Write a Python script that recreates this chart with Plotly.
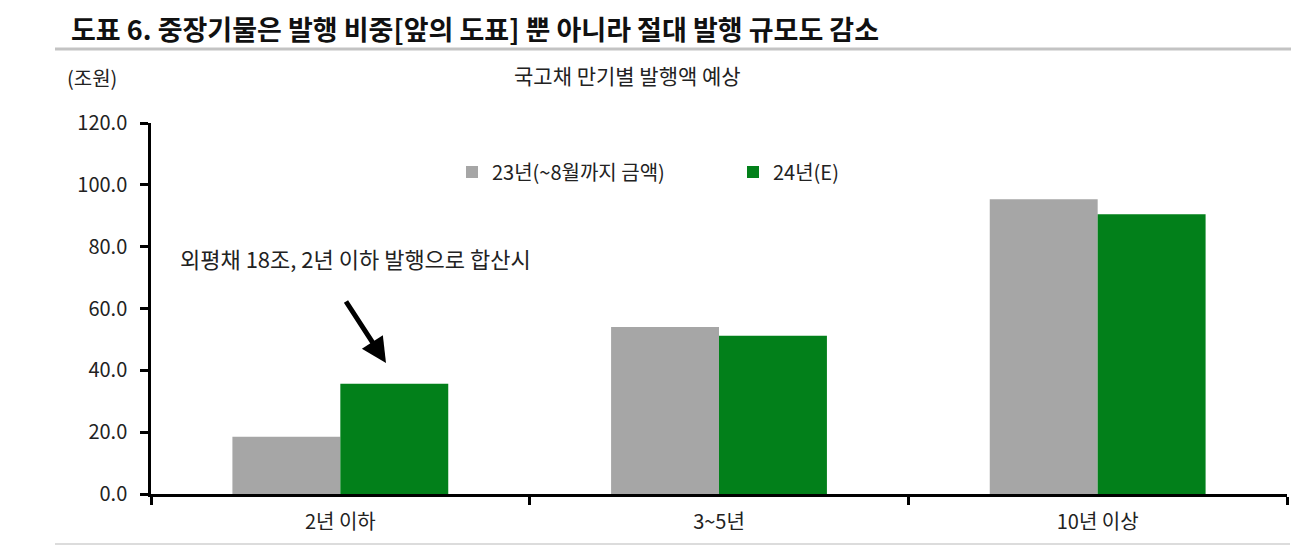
import plotly.graph_objects as go

categories = ["2년 이하", "3~5년", "10년 이상"]
series_names = ["23년(~8월까지 금액)", "24년(E)"]
values_23 = [18.5, 54.0, 95.3]
values_24 = [35.7, 51.2, 90.5]
y_ticks = [0, 20, 40, 60, 80, 100, 120]
y_tick_labels = ["0.0", "20.0", "40.0", "60.0", "80.0", "100.0", "120.0"]

title_text = "도표 6. 중장기물은 발행 비중[앞의 도표] 뿐 아니라 절대 발행 규모도 감소"
subtitle_text = "국고채 만기별 발행액 예상"
unit_text = "(조원)"
note_text = "외평채 18조, 2년 이하 발행으로 합산시"

FONT = "Noto Sans CJK KR"
GRAY = "#a6a6a6"
GREEN = "#02801a"
TXT = "#222222"

fig = go.Figure()
fig.add_trace(go.Bar(x=categories, y=values_23, name=series_names[0],
                     marker=dict(color=GRAY, line=dict(width=0))))
fig.add_trace(go.Bar(x=categories, y=values_24, name=series_names[1],
                     marker=dict(color=GREEN, line=dict(width=0))))

OFF = 8  # page body margin
W, H = 1301 - OFF, 547 - OFF
ml, mr, mt, mb = 151 - OFF, 14, 123 - OFF, 53
pw = W - ml - mr
ph = H - mt - mb

def px(X):
    return (X - OFF - ml) / pw

def py(Y):
    return (H - mb - (Y - OFF)) / ph

fig.update_layout(
    width=W, height=H,
    margin=dict(l=ml, r=mr, t=mt, b=mb),
    paper_bgcolor="white", plot_bgcolor="white",
    font=dict(family=FONT, size=20, color=TXT),
    barmode="group", bargap=0.43, bargroupgap=0,
    showlegend=True,
    legend=dict(orientation="h", x=px(452), xanchor="left", y=py(172), yanchor="middle",
                entrywidth=236, entrywidthmode="pixels", itemwidth=30,
                font=dict(family=FONT, size=20, color=TXT),
                bgcolor="rgba(0,0,0,0)", traceorder="normal"),
    xaxis=dict(type="category", showline=True, linecolor="black", linewidth=2.5,
               ticks="outside", tickson="boundaries", ticklen=8, tickwidth=2.5, tickcolor="black",
               showgrid=False, zeroline=False, ticklabelstandoff=8,
               tickfont=dict(family=FONT, size=20, color=TXT)),
    yaxis=dict(range=[0, 120], tickvals=y_ticks, ticktext=y_tick_labels,
               showline=True, linecolor="black", linewidth=2.5,
               ticks="outside", ticklen=8, tickwidth=2.5, tickcolor="black",
               showgrid=False, zeroline=False, ticklabelstandoff=9,
               tickfont=dict(family=FONT, size=20, color=TXT)),
)

# chart title (annotation anchored to the top edge of the figure)
fig.add_annotation(text="<b>" + title_text + "</b>", xref="paper", yref="paper",
                   x=px(70), y=py(OFF), xanchor="left", yanchor="top", showarrow=False,
                   borderpad=0,
                   font=dict(family=FONT, size=27, color="#111111"))

# title separator line and bottom rule
fig.add_shape(type="line", xref="paper", yref="paper", x0=px(55), x1=px(1291),
              y0=py(49), y1=py(49), line=dict(color="#c3c3c3", width=3))
fig.add_shape(type="line", xref="paper", yref="paper", x0=px(55), x1=px(1290),
              y0=py(544), y1=py(544), line=dict(color="#d0d0d0", width=1.5))

fig.add_annotation(text=unit_text, xref="paper", yref="paper", x=px(65), y=py(77),
                   xanchor="left", yanchor="middle", showarrow=False,
                   font=dict(family=FONT, size=20, color=TXT))
fig.add_annotation(text=subtitle_text, xref="paper", yref="paper", x=px(627), y=py(75),
                   xanchor="center", yanchor="middle", showarrow=False,
                   font=dict(family=FONT, size=21, color=TXT))
fig.add_annotation(text=note_text, xref="paper", yref="paper", x=px(178), y=py(258),
                   xanchor="left", yanchor="middle", showarrow=False,
                   font=dict(family=FONT, size=22, color=TXT))
fig.add_annotation(text="", xref="paper", yref="paper", x=px(386), y=py(363),
                   ax=345 - 386, ay=300 - 363, showarrow=True,
                   arrowhead=2, arrowsize=1, arrowwidth=5, arrowcolor="black")

fig.write_html("out.html")
